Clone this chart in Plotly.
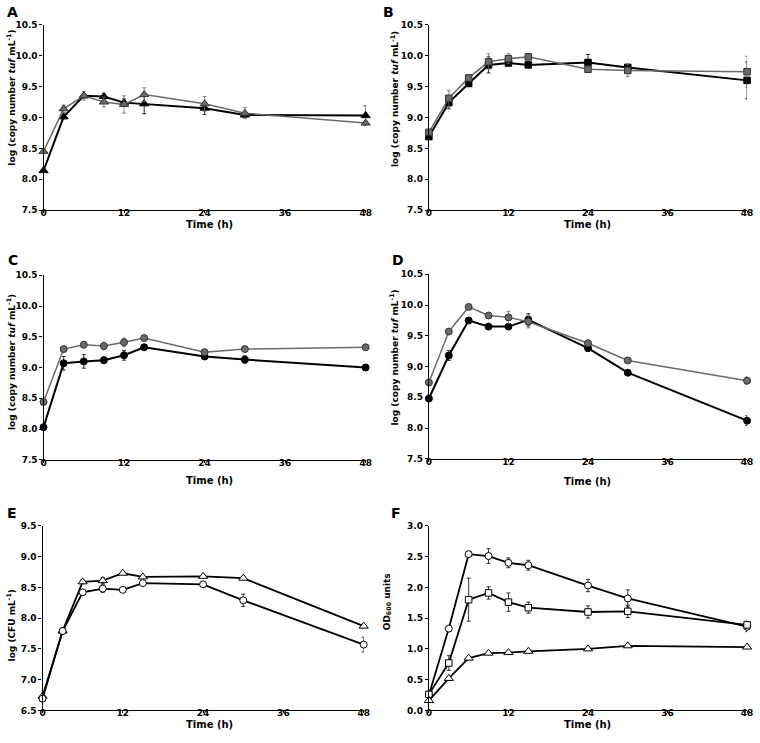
import plotly.graph_objects as go

W, H = 760, 743

time_h = [0, 3, 6, 9, 12, 15, 24, 30, 48]
x_ticks = [0, 12, 24, 36, 48]

# Panel A (triangles)
a_black = [8.14, 9.01, 9.35, 9.34, 9.24, 9.22, 9.15, 9.04, 9.03]
a_black_err = [0.02, 0.03, 0.03, 0.04, 0.06, 0.16, 0.10, 0.04, 0.16]
a_gray = [8.45, 9.14, 9.35, 9.25, 9.21, 9.37, 9.22, 9.07, 8.91]
a_gray_err = [0.02, 0.06, 0.07, 0.08, 0.14, 0.11, 0.12, 0.09, 0.02]

# Panel B (squares)
b_black = [8.69, 9.24, 9.55, 9.85, 9.88, 9.85, 9.89, 9.81, 9.60]
b_black_err = [0.04, 0.10, 0.05, 0.13, 0.04, 0.03, 0.13, 0.05, 0.30]
b_gray = [8.76, 9.31, 9.64, 9.90, 9.95, 9.98, 9.78, 9.76, 9.74]
b_gray_err = [0.03, 0.13, 0.04, 0.13, 0.08, 0.03, 0.03, 0.10, 0.25]

# Panel C (circles)
c_black = [8.03, 9.07, 9.10, 9.12, 9.20, 9.33, 9.18, 9.13, 9.00]
c_black_err = [0.02, 0.11, 0.11, 0.05, 0.08, 0.04, 0.03, 0.06, 0.02]
c_gray = [8.44, 9.30, 9.37, 9.35, 9.41, 9.48, 9.25, 9.30, 9.33]
c_gray_err = [0.02, 0.02, 0.02, 0.06, 0.07, 0.02, 0.04, 0.02, 0.02]

# Panel D (circles)
d_black = [8.48, 9.18, 9.75, 9.65, 9.65, 9.76, 9.30, 8.90, 8.12]
d_black_err = [0.05, 0.08, 0.03, 0.03, 0.04, 0.10, 0.05, 0.03, 0.08]
d_gray = [8.74, 9.57, 9.97, 9.83, 9.80, 9.73, 9.38, 9.10, 8.77]
d_gray_err = [0.02, 0.02, 0.02, 0.03, 0.10, 0.10, 0.02, 0.02, 0.06]

# Panel E (open markers, log CFU)
e_tri = [6.73, 7.79, 8.59, 8.61, 8.73, 8.67, 8.68, 8.65, 7.87]
e_tri_err = [0.02, 0.03, 0.03, 0.05, 0.02, 0.02, 0.02, 0.02, 0.03]
e_circ = [6.69, 7.79, 8.42, 8.48, 8.46, 8.57, 8.55, 8.29, 7.57]
e_circ_err = [0.02, 0.05, 0.03, 0.06, 0.02, 0.02, 0.02, 0.10, 0.12]

# Panel F (OD600)
f_circ = [0.25, 1.33, 2.54, 2.51, 2.40, 2.36, 2.03, 1.82, 1.36]
f_circ_err = [0.02, 0.02, 0.02, 0.12, 0.08, 0.08, 0.10, 0.14, 0.08]
f_sq = [0.26, 0.77, 1.80, 1.91, 1.76, 1.67, 1.60, 1.61, 1.39]
f_sq_err = [0.02, 0.12, 0.35, 0.10, 0.15, 0.09, 0.10, 0.10, 0.06]
f_tri = [0.16, 0.52, 0.85, 0.93, 0.94, 0.96, 1.00, 1.05, 1.03]
f_tri_err = [0.02, 0.03, 0.02, 0.02, 0.02, 0.02, 0.02, 0.02, 0.02]

panel_letters = ["A", "B", "C", "D", "E", "F"]
ytitle_copy = "log (copy number <i>tuf</i> mL<sup>-1</sup>)"
ytitle_cfu = "log (CFU mL<sup>-1</sup>)"
ytitle_od = "OD<sub>600</sub> units"
xtitle = "Time (h)"

FONT = "DejaVu Sans"
BLACK = "#000000"
GRAY = "#6a6a6a"

# plot-area pixel boxes: (left, right, top, bottom)
boxes = [
    (41, 367, 20, 208),
    (431, 753, 20, 208),
    (41, 367, 274, 461),
    (431, 753, 273, 460),
    (40, 365, 528, 715),
    (431, 753, 528, 715),
]
yranges = [(7.5, 10.5)] * 4 + [(6.5, 9.5), (0.0, 3.0)]
ytitles = [ytitle_copy, ytitle_copy, ytitle_copy, ytitle_copy, ytitle_cfu, ytitle_od]
ytitle_pos = [(8, 94), (396, 95), (8, 362), (396, 357), (8, 629), (389, 605)]
xtitle_pos = [(209, 222), (592, 222), (209, 482), (592, 483), (209, 729), (592, 729)]
letter_pos = [(10, 7), (390, 7), (10, 258), (400, 258), (9, 515), (398, 515)]

fig = go.Figure()


def add(i, y, err, symbol, color, fill, lw, msize, mline):
    sfx = "" if i == 0 else str(i + 1)
    fig.add_trace(go.Scatter(
        x=time_h, y=y,
        mode="lines+markers",
        line=dict(color=color, width=lw),
        marker=dict(symbol=symbol, size=msize, color=fill,
                    line=dict(color=mline, width=1)),
        error_y=dict(type="data", array=err, visible=True, color=color,
                     thickness=0.8, width=2),
        xaxis="x" + sfx, yaxis="y" + sfx,
        cliponaxis=False, showlegend=False,
    ))


add(0, a_black, a_black_err, "triangle-up", BLACK, BLACK, 2, 8, BLACK)
add(0, a_gray, a_gray_err, "triangle-up", GRAY, GRAY, 1.5, 8, "#333333")
add(1, b_black, b_black_err, "square", BLACK, BLACK, 2, 6.5, BLACK)
add(1, b_gray, b_gray_err, "square", GRAY, GRAY, 1.5, 6.5, "#333333")
add(2, c_black, c_black_err, "circle", BLACK, BLACK, 2, 7, BLACK)
add(2, c_gray, c_gray_err, "circle", GRAY, GRAY, 1.5, 7, "#333333")
add(3, d_black, d_black_err, "circle", BLACK, BLACK, 2, 7, BLACK)
add(3, d_gray, d_gray_err, "circle", GRAY, GRAY, 1.5, 7, "#333333")
add(4, e_tri, e_tri_err, "triangle-up", BLACK, "white", 1.8, 8, BLACK)
add(4, e_circ, e_circ_err, "circle", BLACK, "white", 1.8, 7, BLACK)
add(5, f_circ, f_circ_err, "circle", BLACK, "white", 1.8, 7, BLACK)
add(5, f_sq, f_sq_err, "square", BLACK, "white", 1.8, 6.5, BLACK)
add(5, f_tri, f_tri_err, "triangle-up", BLACK, "white", 1.8, 8, BLACK)

layout = dict(
    width=W, height=H,
    margin=dict(l=0, r=0, t=0, b=0),
    paper_bgcolor="white", plot_bgcolor="white",
    font=dict(family=FONT, color="black"),
)
annotations = []
for i, (l, r, t, b) in enumerate(boxes):
    sfx = "" if i == 0 else str(i + 1)
    tickfont = dict(family=FONT, size=9, color="black", weight="bold")
    layout["xaxis" + sfx] = dict(
        domain=[l / W, r / W], anchor="y" + sfx, range=[0, 48],
        tickvals=x_ticks, ticks="outside", ticklen=2, tickwidth=1,
        tickcolor="black", showline=True, linecolor="black", linewidth=1.2,
        showgrid=False, zeroline=False, tickfont=tickfont,
        ticklabelstandoff=-8,
    )
    y0, y1 = yranges[i]
    layout["yaxis" + sfx] = dict(
        domain=[1 - b / H, 1 - t / H], anchor="x" + sfx, range=[y0, y1],
        dtick=0.5, tick0=y0, tickformat=".1f", ticks="outside", ticklen=3,
        tickwidth=1, tickcolor="black", showline=True, linecolor="black",
        linewidth=1.2, showgrid=False, zeroline=False, tickfont=tickfont,
    )
    tx, ty = ytitle_pos[i]
    annotations.append(dict(
        text=ytitles[i], x=tx / W, y=1 - ty / H, xref="paper", yref="paper",
        textangle=-90, showarrow=False, xanchor="center", yanchor="middle",
        font=dict(family=FONT, size=9, color="black", weight="bold"),
    ))
    xx, xy = xtitle_pos[i]
    annotations.append(dict(
        text=xtitle, x=xx / W, y=1 - xy / H, xref="paper", yref="paper",
        showarrow=False, xanchor="center", yanchor="middle",
        font=dict(family=FONT, size=10, color="black", weight="bold"),
    ))
    lx, ly = letter_pos[i]
    annotations.append(dict(
        text=panel_letters[i], x=lx / W, y=1 - ly / H, xref="paper",
        yref="paper", showarrow=False, xanchor="center", yanchor="middle",
        font=dict(family=FONT, size=14, color="black", weight="bold"),
    ))
layout["annotations"] = annotations
fig.update_layout(**layout)

fig.write_html(
    "out.html",
    config={"displayModeBar": False},
    post_script="document.body.style.margin='0';document.body.style.overflow='hidden';",
)
